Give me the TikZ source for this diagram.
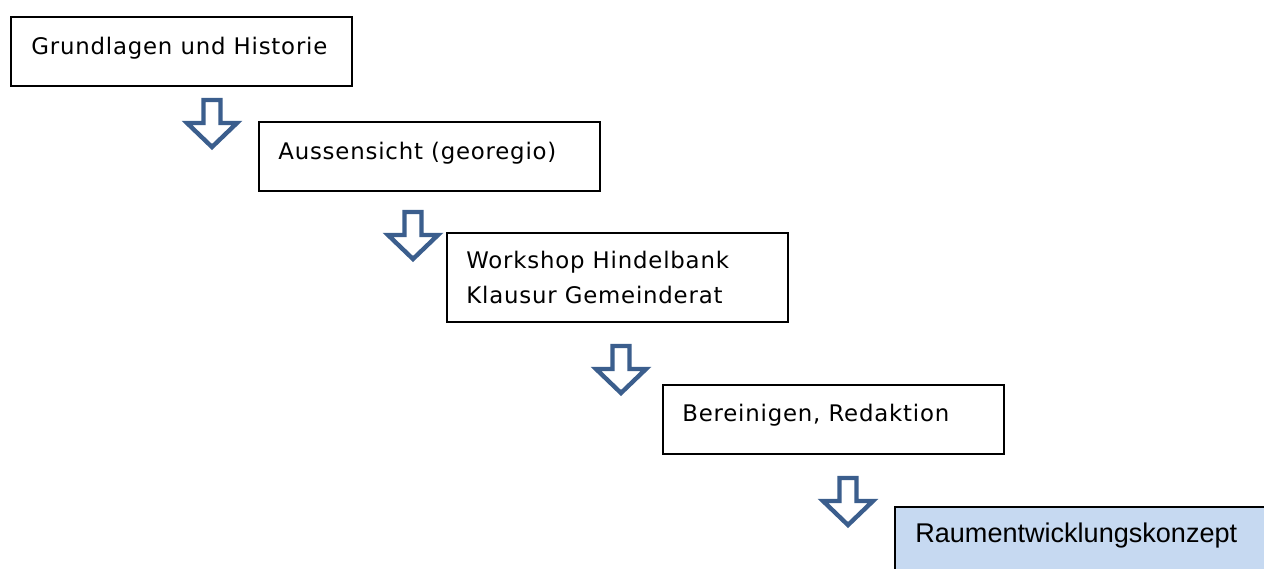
\documentclass[tikz,border=0pt]{standalone}
\usepackage{fontspec}
\setmainfont[LetterSpace=3.5]{DejaVu Sans}
\newfontfamily\zielfont{Liberation Sans}
\usetikzlibrary{positioning}

\definecolor{pfeilblau}{HTML}{3B5E8D}
\definecolor{zielblau}{HTML}{C6D9F1}

\tikzset{
  schritt/.style={draw=black, line width=1.2pt, inner sep=0pt, anchor=north west,
    minimum width=6.82cm, minimum height=1.38cm},
  beschr/.style={anchor=base west, inner sep=0pt, font=\fontsize{13}{15}\selectfont},
  pfeil/.pic={
    \draw [pfeilblau, fill=white, line width=2.5pt, line join=miter]
      (-8.5,0) -- (8.5,0) -- (8.5,23) -- (25,23) -- (0,47) -- (-25,23) -- (-8.5,23) -- cycle;
  }
}

\begin{document}
\begin{tikzpicture}[x=0.02cm, y=-0.02cm]
          \useasboundingbox (0,0) rectangle (1264,568);
          % Kaesten
          \node [schritt] (grundlagen) at (10,16) {};
          \node [schritt] (aussensicht) at (258,121) {};
          \node [schritt, minimum height=1.78cm] (workshop) at (446,232) {};
          \node [schritt] (bereinigen) at (662,384) {};
          \node [schritt, fill=zielblau, minimum width=7.4cm, minimum height=1.6cm] (konzept) at (894,506) {};
          % Texte
          \node [beschr] (t1) at (31,54) {Grundlagen und Historie};
          \node [beschr] (t2) at (278,159) {Aussensicht (georegio)};
          \node [beschr] (t3) at (466,268) {Workshop Hindelbank};
          \node [beschr] (t4) at (466,303) {Klausur Gemeinderat};
          \node [beschr] (t5) at (682,421) {Bereinigen, Redaktion};
          \node [beschr, font=\zielfont\fontsize{15.4}{18}\selectfont] (t6) at (915,542) {Raumentwicklungskonzept};
          % Pfeile
          \pic at (212,100) {pfeil};
          \pic at (413,212) {pfeil};
          \pic at (621,346) {pfeil};
          \pic at (848,478) {pfeil};
        \end{tikzpicture}
\end{document}
